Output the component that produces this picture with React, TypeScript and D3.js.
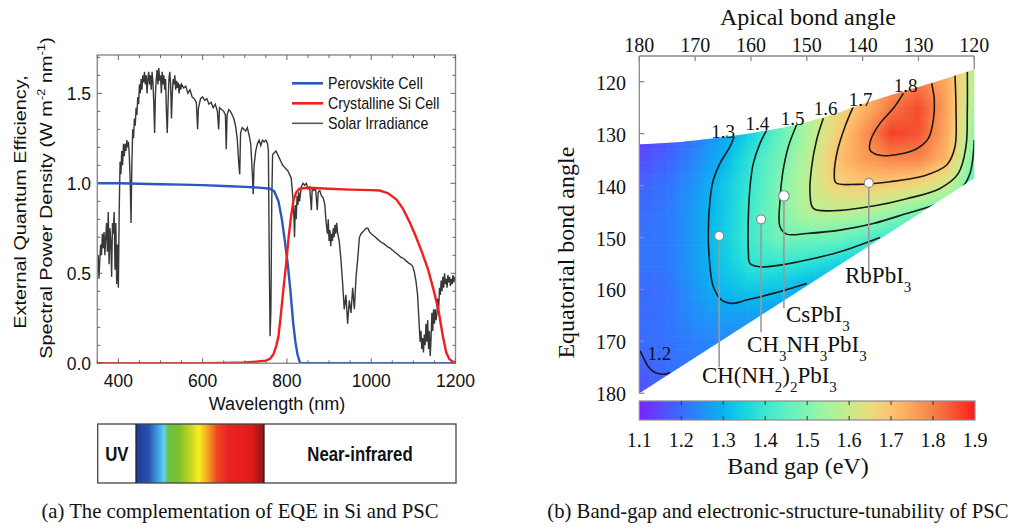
import React, { useMemo } from 'react';
import * as d3 from 'd3';

// ================= Panel (a) data =================
const wavelengthTicks = [400, 600, 800, 1000, 1200];
const powerTicks = [0, 0.5, 1.0, 1.5];
const legendLabels = ['Perovskite Cell', 'Crystalline Si Cell', 'Solar Irradiance'];
const spectrumLabels = ['UV', 'Near-infrared'];
const captionA = '(a) The complementation of EQE in Si and PSC';

const perovskiteEQE: [number, number][] = [
  [350, 1.0], [400, 1.0], [450, 0.998], [500, 0.995], [550, 0.993], [600, 0.99], [650, 0.985],
  [700, 0.98], [740, 0.975], [760, 0.97], [770, 0.955], [780, 0.9], [788, 0.8], [795, 0.68],
  [802, 0.55], [808, 0.41], [815, 0.22], [820, 0.12], [825, 0.05], [830, 0.01], [833, 0], [1200, 0],
];

const siliconEQE: [number, number][] = [
  [350, 0], [600, 0], [650, 0.002], [700, 0.005], [730, 0.01], [750, 0.015], [760, 0.025],
  [768, 0.05], [775, 0.1], [780, 0.15], [786, 0.28], [792, 0.42], [798, 0.55], [804, 0.7],
  [810, 0.82], [816, 0.91], [822, 0.95], [830, 0.97], [850, 0.975], [900, 0.97], [950, 0.965],
  [1000, 0.962], [1020, 0.96], [1040, 0.945], [1060, 0.91], [1075, 0.86], [1090, 0.79],
  [1105, 0.71], [1120, 0.62], [1135, 0.52], [1150, 0.39], [1160, 0.29], [1170, 0.15],
  [1178, 0.06], [1185, 0.025], [1192, 0.01], [1200, 0.005],
];

const solarIrradiance: [number, number][] = [
  [350, 0.52], [352, 0.6], [354, 0.47], [356, 0.58], [358, 0.66], [360, 0.6], [362, 0.72], [364, 0.64],
  [366, 0.73], [368, 0.6], [370, 0.7], [372, 0.78], [374, 0.62], [376, 0.84], [378, 0.55], [380, 0.75],
  [382, 0.68], [384, 0.48], [386, 0.78], [388, 0.72], [390, 0.84], [392, 0.52], [394, 0.78], [396, 0.44],
  [398, 0.66], [400, 0.42], [402, 0.85], [404, 1.12], [406, 1.05], [408, 1.18], [410, 1.1], [412, 1.22],
  [414, 1.15], [416, 1.22], [418, 1.18], [420, 1.24], [422, 1.2], [424, 1.23], [426, 1.15], [428, 1.02],
  [430, 0.78], [432, 1.1], [434, 1.3], [436, 1.25], [438, 1.36], [440, 1.32], [442, 1.42], [444, 1.38],
  [446, 1.48], [448, 1.44], [450, 1.55], [452, 1.5], [454, 1.58], [456, 1.52], [458, 1.6], [460, 1.56],
  [462, 1.62], [464, 1.55], [466, 1.6], [468, 1.5], [470, 1.58], [472, 1.62], [474, 1.55], [476, 1.6],
  [478, 1.52], [480, 1.62], [482, 1.56], [484, 1.45], [486, 1.28], [488, 1.5], [490, 1.58], [492, 1.63],
  [494, 1.55], [496, 1.64], [498, 1.57], [500, 1.6], [502, 1.5], [504, 1.62], [506, 1.55], [508, 1.6],
  [510, 1.52], [512, 1.58], [514, 1.4], [516, 1.28], [518, 1.45], [520, 1.58], [522, 1.62], [524, 1.55],
  [526, 1.36], [528, 1.5], [530, 1.58], [532, 1.55], [534, 1.6], [536, 1.52], [538, 1.57], [540, 1.53],
  [542, 1.56], [544, 1.5], [546, 1.55], [548, 1.52], [550, 1.55], [555, 1.53], [560, 1.54], [565, 1.5],
  [570, 1.52], [575, 1.48], [580, 1.47], [585, 1.45], [588, 1.3], [590, 1.42], [595, 1.47], [600, 1.48],
  [605, 1.46], [610, 1.47], [615, 1.44], [620, 1.45], [625, 1.42], [630, 1.44], [635, 1.4], [638, 1.3],
  [640, 1.42], [645, 1.41], [650, 1.4], [654, 1.38], [656, 1.19], [658, 1.38], [662, 1.41], [666, 1.4],
  [670, 1.38], [674, 1.36], [678, 1.32], [682, 1.25], [686, 1.1], [688, 1.05], [690, 1.28], [694, 1.31],
  [698, 1.3], [702, 1.29], [706, 1.31], [710, 1.27], [714, 1.22], [718, 1.05], [720, 0.94], [722, 1.1],
  [726, 1.18], [730, 1.22], [734, 1.24], [738, 1.21], [742, 1.24], [746, 1.23], [750, 1.24], [754, 1.22],
  [756, 1.18], [758, 0.6], [760, 0.15], [762, 0.3], [764, 0.9], [766, 1.16], [770, 1.17], [774, 1.18],
  [778, 1.16], [782, 1.14], [786, 1.12], [790, 1.1], [794, 1.09], [798, 1.08], [802, 1.07], [806, 1.05],
  [810, 1.03], [812, 0.98], [814, 0.92], [816, 0.85], [818, 0.7], [820, 0.88], [822, 0.8], [824, 0.93],
  [826, 0.88], [828, 0.95], [830, 0.9], [834, 0.98], [838, 1.0], [842, 0.99], [846, 1.0], [850, 0.97],
  [854, 0.98], [858, 0.85], [860, 0.97], [864, 0.96], [868, 0.97], [872, 0.85], [874, 0.95], [878, 0.96],
  [882, 0.93], [886, 0.92], [890, 0.88], [893, 0.78], [896, 0.72], [898, 0.8], [900, 0.68], [902, 0.74],
  [904, 0.65], [906, 0.72], [908, 0.68], [910, 0.75], [912, 0.7], [914, 0.77], [916, 0.72], [918, 0.78],
  [920, 0.73], [924, 0.68], [928, 0.58], [932, 0.45], [936, 0.3], [940, 0.38], [944, 0.22], [948, 0.35],
  [952, 0.28], [956, 0.42], [960, 0.3], [964, 0.48], [968, 0.58], [972, 0.7], [976, 0.72], [980, 0.73],
  [984, 0.74], [988, 0.75], [992, 0.75], [996, 0.73], [1000, 0.72], [1005, 0.71], [1010, 0.7],
  [1015, 0.69], [1020, 0.68], [1025, 0.67], [1030, 0.665], [1035, 0.655], [1040, 0.645], [1045, 0.64],
  [1050, 0.63], [1055, 0.62], [1060, 0.61], [1065, 0.6], [1070, 0.59], [1075, 0.585], [1080, 0.575],
  [1085, 0.565], [1090, 0.555], [1094, 0.55], [1098, 0.54], [1102, 0.51], [1106, 0.46], [1110, 0.38],
  [1113, 0.25], [1116, 0.12], [1118, 0.18], [1120, 0.08], [1122, 0.14], [1124, 0.06], [1126, 0.16],
  [1128, 0.1], [1130, 0.22], [1132, 0.12], [1134, 0.24], [1136, 0.08], [1138, 0.18], [1140, 0.04],
  [1142, 0.14], [1144, 0.28], [1146, 0.18], [1148, 0.3], [1150, 0.22], [1152, 0.3], [1154, 0.24],
  [1156, 0.28], [1158, 0.36], [1160, 0.3], [1162, 0.42], [1164, 0.38], [1166, 0.46], [1168, 0.4],
  [1170, 0.48], [1172, 0.42], [1174, 0.5], [1176, 0.44], [1178, 0.47], [1180, 0.42], [1182, 0.49],
  [1184, 0.45], [1186, 0.48], [1188, 0.43], [1190, 0.47], [1192, 0.44], [1194, 0.49], [1196, 0.45],
  [1198, 0.48], [1200, 0.46],
];

// ================= Panel (b) data =================
const apicalTicks = [180, 170, 160, 150, 140, 130, 120];
const equatorialTicks = [120, 130, 140, 150, 160, 170, 180];
const bandGapTicks = [1.1, 1.2, 1.3, 1.4, 1.5, 1.6, 1.7, 1.8, 1.9];
const captionB = '(b) Band-gap and electronic-structure-tunability of PSC';

// band gap sampled on a coarse grid (apical ascending, equatorial ascending)
const gridApical = [120, 125, 130, 135, 140, 145, 150, 155, 160, 165, 170, 175, 180];
const gridEquatorial = [115, 120, 125, 130, 135, 140, 145, 150, 155, 160, 165, 170, 175, 180];
const bandGapGrid = [
  [1.58, 1.72, 1.78, 1.76, 1.70, 1.64, 1.57, 1.50, 1.42, 1.34, 1.27, 1.20, 1.13],
  [1.57, 1.74, 1.80, 1.77, 1.70, 1.64, 1.57, 1.50, 1.42, 1.34, 1.27, 1.20, 1.13],
  [1.55, 1.75, 1.86, 1.81, 1.72, 1.65, 1.58, 1.50, 1.42, 1.34, 1.27, 1.20, 1.14],
  [1.52, 1.74, 1.85, 1.87, 1.77, 1.67, 1.56, 1.45, 1.35, 1.28, 1.22, 1.17, 1.13],
  [1.48, 1.72, 1.79, 1.79, 1.76, 1.70, 1.58, 1.48, 1.39, 1.30, 1.24, 1.19, 1.16],
  [1.45, 1.60, 1.66, 1.68, 1.69, 1.67, 1.59, 1.50, 1.40, 1.33, 1.26, 1.21, 1.19],
  [1.40, 1.45, 1.49, 1.54, 1.58, 1.59, 1.58, 1.50, 1.41, 1.33, 1.27, 1.22, 1.20],
  [1.30, 1.33, 1.36, 1.39, 1.44, 1.47, 1.48, 1.48, 1.41, 1.34, 1.27, 1.22, 1.21],
  [1.24, 1.26, 1.28, 1.30, 1.32, 1.35, 1.38, 1.39, 1.39, 1.33, 1.27, 1.22, 1.21],
  [1.22, 1.23, 1.24, 1.25, 1.26, 1.27, 1.29, 1.32, 1.33, 1.31, 1.26, 1.21, 1.20],
  [1.20, 1.20, 1.21, 1.22, 1.23, 1.24, 1.25, 1.26, 1.27, 1.27, 1.25, 1.21, 1.20],
  [1.20, 1.20, 1.20, 1.20, 1.20, 1.21, 1.22, 1.23, 1.24, 1.24, 1.23, 1.21, 1.205],
  [1.20, 1.20, 1.20, 1.20, 1.20, 1.20, 1.21, 1.21, 1.22, 1.22, 1.22, 1.205, 1.18],
  [1.20, 1.20, 1.20, 1.20, 1.20, 1.20, 1.20, 1.21, 1.21, 1.21, 1.21, 1.19, 1.16],
];

// boundary of the computed region (apical, equatorial)
const regionTop: [number, number][] = [
  [180, 132.1], [172.5, 131.6], [166.5, 130.9], [160.5, 130.0], [155, 129.0], [150, 127.8],
  [145, 126.2], [140, 124.3], [135, 122.6], [130, 121.0], [125, 119.4], [120, 117.6],
];
const regionBottom: [number, number][] = [[120, 138.6], [180, 180]];

// contour lines (apical, equatorial)
const contour12: [number, number][] = [[179.9, 171.8], [179.16, 173.3], [178.39, 174.91], [177.19, 176.0], [175.7, 176.32], [174.5, 176.07]];
const contour13: [number, number][] = [[163.0, 130.6], [163.76, 132.52], [165.55, 135.73], [166.74, 138.94], [167.34, 142.79], [167.64, 149.2], [167.34, 155.63], [166.74, 159.48], [165.25, 162.05], [163.16, 162.69], [160.77, 162.05], [155.99, 160.76], [150.0, 158.84]];
const contour14: [number, number][] = [[157.19, 129.31], [158.38, 131.88], [159.58, 135.73], [160.17, 140.23], [160.47, 146.01], [160.47, 152.43], [160.17, 154.99], [158.38, 155.64], [154.8, 155.32], [150.03, 154.35], [144.06, 152.75], [136.89, 149.99]];
const contour15: [number, number][] = [[151.83, 128.34], [153.31, 132.52], [154.33, 137.66], [154.8, 142.8], [154.8, 147.94], [153.61, 149.35], [150.02, 149.22], [144.06, 148.58], [138.08, 147.3], [132.11, 145.37], [126.14, 143.31], [122.55, 140.87], [120.77, 137.66], [120.0, 131.23]];
const contour16: [number, number][] = [[147.04, 127.06], [148.24, 131.23], [149.13, 136.37], [149.43, 141.51], [148.83, 144.4], [145.25, 144.85], [138.08, 143.95], [132.11, 142.54], [126.14, 140.55], [122.86, 137.66], [121.49, 132.52], [121.25, 125.45], [121.25, 118.07]];
const contour17: [number, number][] = [[141.67, 124.81], [143.16, 128.66], [144.48, 133.16], [145.07, 137.66], [144.78, 139.46], [141.08, 139.78], [135.1, 139.26], [129.13, 138.17], [124.95, 136.05], [123.46, 132.52], [123.28, 125.45], [123.46, 118.71]];
const contour18: [number, number][] = [[132.71, 122.24], [134.5, 125.13], [136.89, 128.02], [138.55, 131.23], [138.68, 133.16], [136.89, 134.18], [133.3, 133.93], [130.31, 132.9], [128.23, 130.91], [127.34, 127.38], [127.16, 123.53], [127.63, 120.31]];
const contourLines = [contour12, contour13, contour14, contour15, contour16, contour17, contour18];

// contour level labels: text, apical (centre), equatorial (baseline)
const contourLabels: [string, number, number][] = [
  ['1.2', 176.4, 173.6], ['1.3', 165.0, 130.85], ['1.4', 158.83, 129.3], ['1.5', 152.56, 128.34],
  ['1.6', 146.65, 126.42], ['1.7', 140.38, 124.68], ['1.8', 132.32, 121.93],
];

// compounds: marker (apical, equatorial), leader end equatorial, label start (apical, equatorial)
const compoundMarkers: [number, number][] = [[165.7, 149.7], [158.2, 146.5], [154.1, 142.0], [138.9, 139.5]];
const compoundLeaderEnd = [174.97, 168.23, 163.6, 156.86];
const compoundLabelAt: [number, number][] = [[168.79, 178.11], [160.71, 172.02], [153.72, 166.24], [143.15, 158.84]];
const compoundNames: [string, boolean][][] = [
  [['CH(NH', false], ['2', true], [')', false], ['2', true], ['PbI', false], ['3', true]],
  [['CH', false], ['3', true], ['NH', false], ['3', true], ['PbI', false], ['3', true]],
  [['CsPbI', false], ['3', true]],
  [['RbPbI', false], ['3', true]],
];

// ================= styles =================
const SANS = "'Liberation Sans', Arial, Helvetica, sans-serif";
const SERIF = "'Liberation Serif', 'Times New Roman', Times, serif";
const seriesColors = ['#2a57c0', '#f21f1f', '#222222'];
const frameGray = '#8a8a8a';
const spectrumStops: [number, string][] = [
  [0, '#1d3a92'], [0.1, '#2852b4'], [0.19, '#45b4e8'], [0.22, '#5fd2ee'], [0.25, '#6cc04a'],
  [0.33, '#78c02c'], [0.42, '#c0d424'], [0.49, '#f6f020'], [0.56, '#f4a420'], [0.63, '#ee4a22'],
  [0.72, '#e82222'], [0.9, '#e41a1a'], [1, '#8e1616'],
];
const bandStops: [number, string][] = [
  [1.1, '#7a22ff'], [1.15, '#5a48ff'], [1.2, '#3a6bff'], [1.25, '#2090f8'], [1.3, '#08b4f0'],
  [1.35, '#18d4e0'], [1.4, '#3ce8d0'], [1.45, '#60f0c0'], [1.5, '#80f4b0'], [1.55, '#a4f4a0'],
  [1.6, '#c8ec8c'], [1.65, '#e8dc80'], [1.7, '#fcc470'], [1.75, '#fca45c'], [1.8, '#f88048'],
  [1.85, '#f45432'], [1.9, '#ff1a1a'],
];

// ================= layout =================
const A = { left: 97.3, right: 455.5, top: 55, bottom: 363.3 };
const B = { left: 639.3, right: 974.3, top: 56 };
const CB = { left: 639.3, right: 975, top: 401, bottom: 420 };
const SPEC = { left: 97.7, right: 456, top: 424, bottom: 483, c0: 136, c1: 264 };

function bandGapAt(ap: number, eq: number) {
  const i = Math.max(0, Math.min(gridApical.length - 2, d3.bisectRight(gridApical, ap) - 1));
  const j = Math.max(0, Math.min(gridEquatorial.length - 2, d3.bisectRight(gridEquatorial, eq) - 1));
  const tx = Math.max(0, Math.min(1, (ap - gridApical[i]) / (gridApical[i + 1] - gridApical[i])));
  const ty = Math.max(0, Math.min(1, (eq - gridEquatorial[j]) / (gridEquatorial[j + 1] - gridEquatorial[j])));
  const v00 = bandGapGrid[j][i], v10 = bandGapGrid[j][i + 1];
  const v01 = bandGapGrid[j + 1][i], v11 = bandGapGrid[j + 1][i + 1];
  return v00 * (1 - tx) * (1 - ty) + v10 * tx * (1 - ty) + v01 * (1 - tx) * ty + v11 * tx * ty;
}

function SubText({ parts, x, y, size, subSize, shift }: any) {
  let prevSub = false;
  return (
    <text x={x} y={y} fontFamily={SERIF} fontSize={size} fill="#111">
      {parts.map(([t, sub]: [string, boolean], k: number) => {
        const dy = sub && !prevSub ? shift : !sub && prevSub ? -shift : 0;
        prevSub = sub;
        return (
          <tspan key={k} dy={dy} fontSize={sub ? subSize : size}>{t}</tspan>
        );
      })}
    </text>
  );
}

export default function App() {
  const xA = d3.scaleLinear().domain([350, 1200]).range([A.left, A.right]);
  const yA = d3.scaleLinear().domain([0, 1.713]).range([A.bottom, A.top]);
  const lineA = d3.line<[number, number]>().x((d) => xA(d[0])).y((d) => yA(d[1]));

  const xB = d3.scaleLinear().domain([180, 120]).range([B.left, B.right]);
  const yB = d3.scaleLinear().domain([120, 180]).range([81.7, 393.3]);
  const xC = d3.scaleLinear().domain([1.1, 1.9]).range([CB.left, CB.right]);
  const bandColor = d3.scaleLinear<string>()
    .domain(bandStops.map((s) => s[0]))
    .range(bandStops.map((s) => s[1]))
    .interpolate(d3.interpolateRgb)
    .clamp(true);
  const lineB = d3.line<[number, number]>().x((d) => xB(d[0])).y((d) => yB(d[1])).curve(d3.curveCatmullRom.alpha(0.5));

  const cells = useMemo(() => {
    const out: { x: number; y: number; w: number; h: number; c: string }[] = [];
    const step = 0.5;
    for (let ap = 120; ap < 180; ap += step) {
      for (let eq = 115; eq < 180; eq += step) {
        const v = bandGapAt(ap + step / 2, eq + step / 2);
        const x0 = xB(ap + step), x1 = xB(ap);
        const y0 = yB(eq), y1 = yB(eq + step);
        out.push({ x: x0, y: y0, w: x1 - x0 + 0.6, h: y1 - y0 + 0.6, c: bandColor(v) });
      }
    }
    return out;
  }, []);

  const regionPoly = [...regionTop, ...regionBottom].map((d) => `${xB(d[0])},${yB(d[1])}`).join(' ');
  const topEq = yB.invert(B.top);

  const xMinor = d3.range(350, 1201, 50);
  const yMinor = d3.range(0, 1.71, 0.1);

  return (
    <svg width={1014} height={530} style={{ position: 'absolute', left: 0, top: 0, background: '#fff' }}>
      <defs>
        <clipPath id="clipA"><rect x={A.left} y={A.top} width={A.right - A.left} height={A.bottom - A.top} /></clipPath>
        <clipPath id="clipB"><polygon points={regionPoly} /></clipPath>
        <linearGradient id="specGrad" x1="0" x2="1" y1="0" y2="0">
          {spectrumStops.map((s, i) => <stop key={i} offset={s[0]} stopColor={s[1]} />)}
        </linearGradient>
        <linearGradient id="bandGrad" x1="0" x2="1" y1="0" y2="0">
          {bandStops.map((s, i) => <stop key={i} offset={(s[0] - 1.1) / 0.8} stopColor={s[1]} />)}
        </linearGradient>
      </defs>
      <rect x={0} y={0} width={1014} height={530} fill="#fff" />

      {/* ================= Panel (a) ================= */}
      <g clipPath="url(#clipA)" fill="none">
        <path d={lineA(solarIrradiance) || ''} stroke={seriesColors[2]} strokeWidth={1.4} strokeOpacity={0.9} />
        <path d={lineA(perovskiteEQE) || ''} stroke={seriesColors[0]} strokeWidth={2.4} />
        <path d={lineA(siliconEQE) || ''} stroke={seriesColors[1]} strokeWidth={2.4} />
      </g>
      <rect x={A.left} y={A.top} width={A.right - A.left} height={A.bottom - A.top} fill="none" stroke={frameGray} strokeWidth={1.4} />
      <g stroke="#666" strokeWidth={1}>
        {xMinor.map((v) => {
          const len = v % 200 === 0 ? 5 : 3;
          const x = xA(v);
          return (
            <g key={v}>
              <line x1={x} x2={x} y1={A.bottom} y2={A.bottom - len} />
              <line x1={x} x2={x} y1={A.top} y2={A.top + len} />
            </g>
          );
        })}
        {yMinor.map((v, i) => {
          const len = i % 5 === 0 ? 5 : 3;
          const y = yA(v);
          return (
            <g key={i}>
              <line x1={A.left} x2={A.left + len} y1={y} y2={y} />
              <line x1={A.right} x2={A.right - len} y1={y} y2={y} />
            </g>
          );
        })}
      </g>
      <g fontFamily={SANS} fontSize={17.5} fill="#111">
        {wavelengthTicks.map((v) => (
          <text key={v} x={xA(v)} y={387} textAnchor="middle">{v}</text>
        ))}
        {powerTicks.map((v) => (
          <text key={v} x={91} y={yA(v) + 6.3} textAnchor="end">{v.toFixed(1)}</text>
        ))}
        <text x={277} y={410} textAnchor="middle" fontSize={18}>Wavelength (nm)</text>
      </g>
      {/* y title */}
      <g fontFamily={SANS} fill="#111" fontSize={16.5}>
        <text transform="translate(25.5,202) rotate(-90) scale(1.2,1)" textAnchor="middle">External Quantum Efficiency,</text>
        <text transform="translate(52,198) rotate(-90) scale(1.2,1)" textAnchor="middle">
          Spectral Power Density (W m<tspan dy={-7} fontSize={11}>-2</tspan><tspan dy={7}> nm</tspan><tspan dy={-7} fontSize={11}>-1</tspan><tspan dy={7}>)</tspan>
        </text>
      </g>
      {/* legend */}
      <g fontFamily={SANS} fontSize={16} fill="#111">
        {legendLabels.map((l, i) => {
          const y = 83.3 + i * 20;
          return (
            <g key={l}>
              <line x1={292} x2={323} y1={y} y2={y} stroke={seriesColors[i]} strokeWidth={i === 2 ? 1.6 : 2.6} strokeOpacity={i === 2 ? 0.75 : 1} />
              <text transform={`translate(328,${y + 6}) scale(0.89,1)`}>{l}</text>
            </g>
          );
        })}
      </g>
      {/* visible spectrum bar */}
      <rect x={SPEC.c0} y={SPEC.top} width={SPEC.c1 - SPEC.c0} height={SPEC.bottom - SPEC.top} fill="url(#specGrad)" />
      <rect x={SPEC.left} y={SPEC.top} width={SPEC.right - SPEC.left} height={SPEC.bottom - SPEC.top} fill="none" stroke="#444" strokeWidth={1.3} />
      <line x1={SPEC.c0} x2={SPEC.c0} y1={SPEC.top} y2={SPEC.bottom} stroke="#222" strokeWidth={1.3} />
      <line x1={SPEC.c1} x2={SPEC.c1} y1={SPEC.top} y2={SPEC.bottom} stroke="#222" strokeWidth={1.3} />
      <g fontFamily={SANS} fontWeight="bold" fontSize={20} fill="#111">
        <text transform={`translate(${(SPEC.left + SPEC.c0) / 2},461) scale(0.84,1)`} textAnchor="middle">{spectrumLabels[0]}</text>
        <text transform={`translate(${(SPEC.c1 + SPEC.right) / 2},461) scale(0.84,1)`} textAnchor="middle">{spectrumLabels[1]}</text>
      </g>
      <text x={240} y={518} textAnchor="middle" fontFamily={SERIF} fontSize={20.7} fill="#111">{captionA}</text>

      {/* ================= Panel (b) ================= */}
      <g clipPath="url(#clipB)">
        {cells.map((c, i) => (
          <rect key={i} x={c.x} y={c.y} width={c.w} height={c.h} fill={c.c} />
        ))}
        <g fill="none" stroke="#1a1a1a" strokeWidth={1.6}>
          {contourLines.map((pts, i) => <path key={i} d={lineB(pts) || ''} />)}
        </g>
      </g>
      {/* frame */}
      <g stroke={frameGray} strokeWidth={1.3}>
        <line x1={B.left} x2={B.right} y1={B.top} y2={B.top} />
        <line x1={B.left} x2={B.left} y1={B.top} y2={yB(180)} />
        <line x1={B.right} x2={B.right} y1={B.top} y2={yB(117.6)} />
        {apicalTicks.map((v) => <line key={v} x1={xB(v)} x2={xB(v)} y1={B.top} y2={B.top + 5} />)}
        {equatorialTicks.map((v) => <line key={v} x1={B.left} x2={B.left + 5} y1={yB(v)} y2={yB(v)} />)}
      </g>
      <g fontFamily={SERIF} fontSize={20} fill="#111">
        {apicalTicks.map((v) => <text key={v} x={xB(v)} y={51.5} textAnchor="middle">{v}</text>)}
        {equatorialTicks.map((v) => <text key={v} x={626} y={yB(v) + 8} textAnchor="end">{v}</text>)}
      </g>
      <text x={808} y={25} textAnchor="middle" fontFamily={SERIF} fontSize={24} fill="#111">Apical bond angle</text>
      <text transform={`translate(574,${(yB(topEq) + yB(180)) / 2 + 28}) rotate(-90)`} textAnchor="middle" fontFamily={SERIF} fontSize={24} fill="#111">Equatorial bond angle</text>
      {/* contour labels */}
      <g fontFamily={SERIF} fontSize={19} fill="#111">
        {contourLabels.map(([t, ap, eq]) => <text key={t} x={xB(ap)} y={yB(eq)} textAnchor="middle">{t}</text>)}
      </g>
      {/* compounds */}
      {compoundMarkers.map(([ap, eq], i) => (
        <g key={i}>
          <line x1={xB(ap)} x2={xB(ap)} y1={yB(eq)} y2={yB(compoundLeaderEnd[i])} stroke="#9a9a9a" strokeWidth={1.6} />
          <circle cx={xB(ap)} cy={yB(eq)} r={i === 2 ? 5.2 : 4.5} fill="#fff" stroke="#8a8a8a" strokeWidth={1.2} />
          <SubText parts={compoundNames[i]} x={xB(compoundLabelAt[i][0])} y={yB(compoundLabelAt[i][1])} size={23} subSize={15} shift={9} />
        </g>
      ))}
      {/* colour bar */}
      <rect x={CB.left} y={CB.top} width={CB.right - CB.left} height={CB.bottom - CB.top} fill="url(#bandGrad)" stroke={frameGray} strokeWidth={1.2} />
      <g stroke="#333" strokeWidth={1}>
        {bandGapTicks.slice(1, -1).map((v) => (
          <g key={v}>
            <line x1={xC(v)} x2={xC(v)} y1={CB.top} y2={CB.top + 4} />
            <line x1={xC(v)} x2={xC(v)} y1={CB.bottom} y2={CB.bottom - 4} />
          </g>
        ))}
      </g>
      <g fontFamily={SERIF} fontSize={20} fill="#111">
        {bandGapTicks.map((v) => <text key={v} x={xC(v)} y={447} textAnchor="middle">{v.toFixed(1)}</text>)}
      </g>
      <text x={798} y={474} textAnchor="middle" fontFamily={SERIF} fontSize={24} fill="#111">Band gap (eV)</text>
      <text x={778} y={518} textAnchor="middle" fontFamily={SERIF} fontSize={20.7} fill="#111">{captionB}</text>
    </svg>
  );
}
